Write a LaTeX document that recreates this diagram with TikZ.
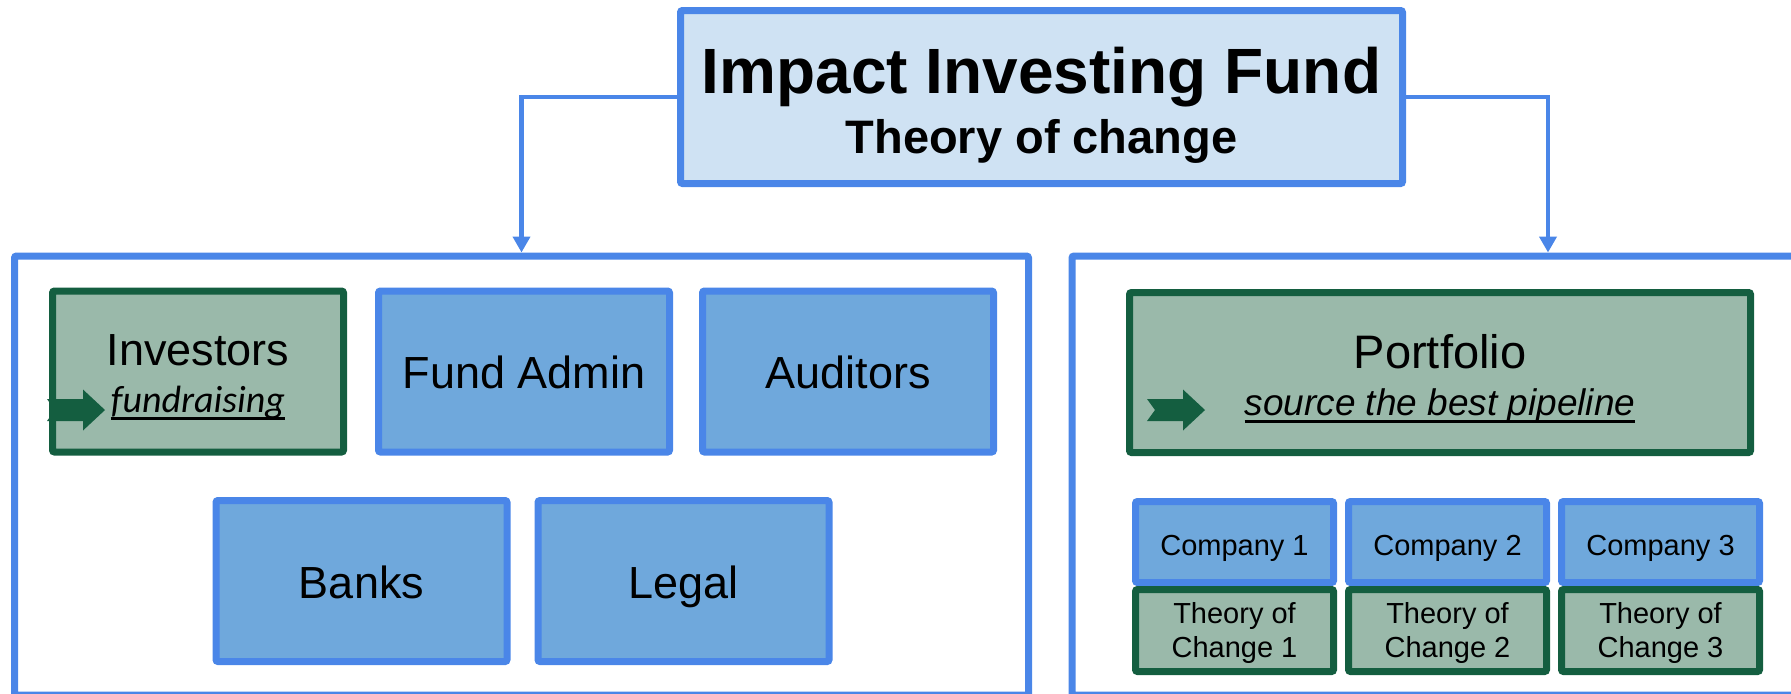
\documentclass[tikz,border=0pt]{standalone}
\usepackage{fontspec}
\setmainfont{Liberation Sans}
\newfontfamily\calibri{Carlito}
\usetikzlibrary{positioning, arrows.meta}

\definecolor{bordblue}{RGB}{74,134,232}
\definecolor{titlefill}{RGB}{207,226,243}
\definecolor{boxfill}{RGB}{111,168,220}
\definecolor{dgreen}{RGB}{20,94,64}
\definecolor{sage}{RGB}{154,185,170}

% underline that runs through the descenders
\newsavebox\ulbox
\newcommand{\ulined}[1]{\sbox\ulbox{#1}\rlap{\usebox\ulbox}\rule[-3.8pt]{\wd\ulbox}{1.1pt}}

% notched block arrow, tail tip at (#1,#2)
\newcommand{\fatarrow}[2]{%
\fill[dgreen] (#1,#2) ++(0,-11) -- ++(36,0) -- ++(0,-9.5) -- ++(22,20.5) -- ++(-22,20.5) -- ++(0,-9.5) -- ++(-36,0) -- ++(8,-11) -- cycle;}

\begin{document}
\begin{tikzpicture}[x=0.5pt, y=-0.5pt]
\tikzstyle{panel}=[%
draw=bordblue, line width=3.5pt, rounded corners=1pt
]
\tikzstyle{svc}=[%
draw=bordblue, fill=boxfill, line width=3.5pt, rounded corners=1pt,
minimum width=145.5pt, minimum height=80.5pt,
text height=17pt, text depth=0pt,
font=\fontsize{22.5}{23.5}\selectfont, align=center
]
\tikzstyle{lead}=[%
svc, draw=dgreen, fill=sage, text height=43.5pt, text depth=3pt
]
\tikzstyle{co}=[%
svc, minimum width=99pt, minimum height=40.5pt,
text height=16pt, text depth=3pt,
font=\fontsize{14.5}{17}\selectfont
]
\tikzstyle{toc}=[%
co, draw=dgreen, fill=sage, minimum height=41pt,
text height=29.5pt, text depth=3pt
]
\tikzstyle{conn}=[%
draw=bordblue, line width=2.25pt, -{Triangle[width=8.5pt,length=8pt]}
]
   \useasboundingbox (0,0) rectangle (1791,693);

   % two panels
   \node[panel, minimum width=507pt, minimum height=219.5pt] (team) at (521.5,475.5) {};
   \node[panel, minimum width=476pt, minimum height=219.5pt] (pipe) at (1548,475.5) {};

   \node[svc, fill=titlefill, minimum width=361pt, minimum height=86.5pt,
         text height=60pt, text depth=4pt,
         font=\fontsize{23.5}{30}\selectfont\bfseries] (title) at (1041.5,97)
         {{\fontsize{32}{30}\selectfont Impact Investing Fund}\\Theory of change};
   \draw[conn] (title.west) -| (team.north);
   \draw[conn] (title.east) -| (pipe.north);

   % fund side
   \node[lead] (inv) at (198,371.5) {Investors\\{\calibri\itshape\fontsize{19}{20}\selectfont\ulined{fundraising}}};
   \node[svc, right=14pt of inv] (admin) {Fund Admin};
   \node[svc, right=13pt of admin] (audit) {Auditors};
   \node[svc] (banks) at (361.5,581) {Banks};
   \node[svc, right=12pt of banks] (legal) {Legal};

   % portfolio side
   \node[lead, minimum width=310.5pt, minimum height=80pt, text height=45.5pt,
         font=\fontsize{23.5}{23.5}\selectfont] (port) at (1440,372.5)
         {Portfolio\\{\itshape\fontsize{18.5}{20}\selectfont\ulined{source the best pipeline}}};
   \node[co] (c1) at (1234.5,542) {Company 1};
   \node[co, right=4pt of c1] (c2) {Company 2};
   \node[co, right=4pt of c2] (c3) {Company 3};
   \node[toc, below=0pt of c1] (t1) {Theory of\\Change 1};
   \node[toc, below=0pt of c2] (t2) {Theory of\\Change 2};
   \node[toc, below=0pt of c3] (t3) {Theory of\\Change 3};

   \fatarrow{47}{410}
   \fatarrow{1147}{410}
\end{tikzpicture}
\end{document}
